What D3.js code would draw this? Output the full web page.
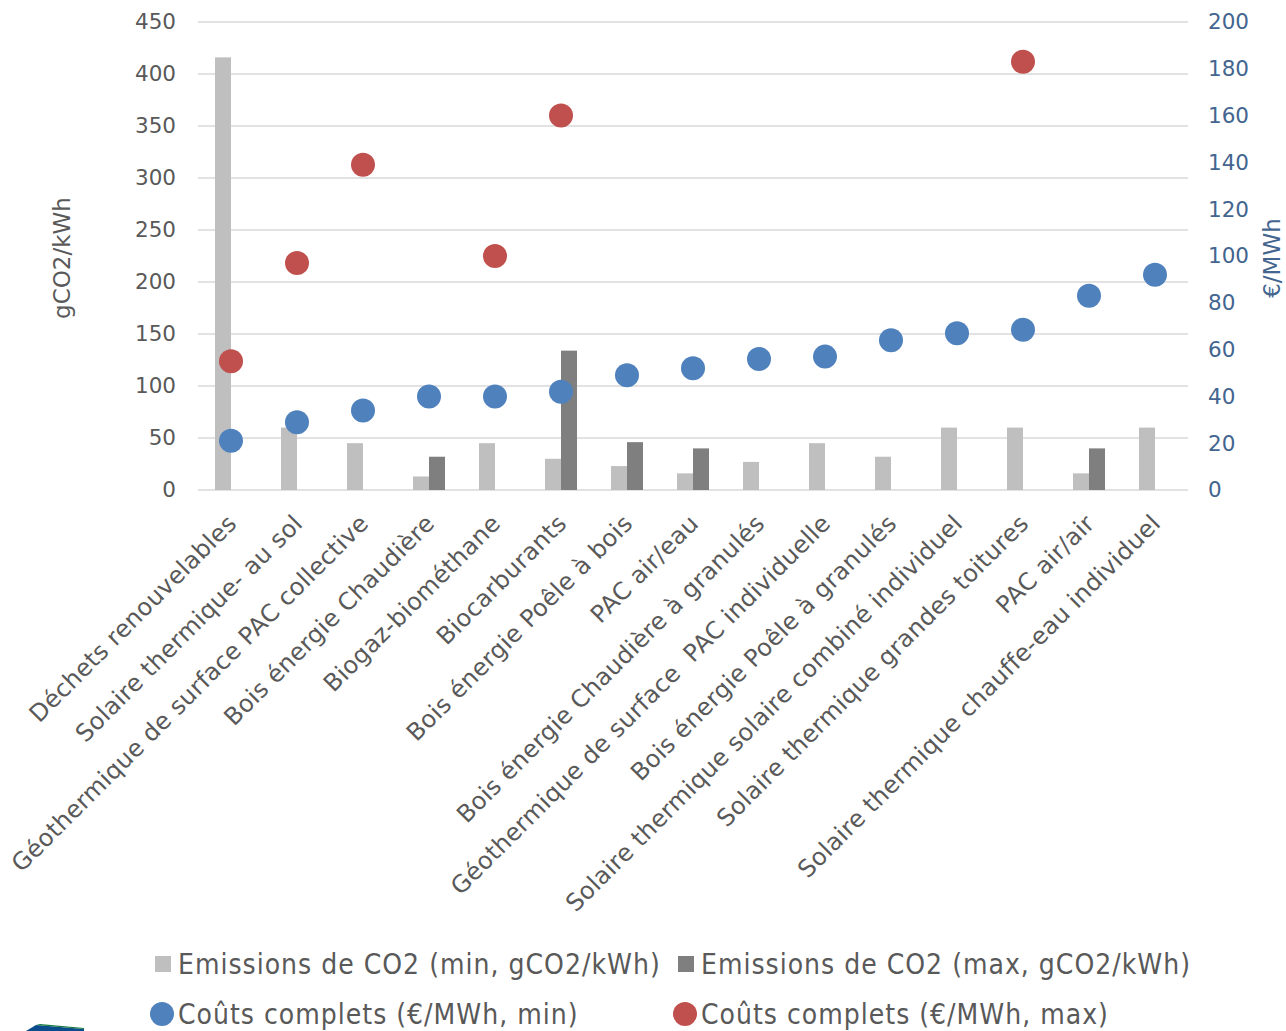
<!DOCTYPE html>
<html lang="fr">
<head>
<meta charset="utf-8">
<script src="https://cdn.jsdelivr.net/npm/d3@7"></script>
<style>
  html, body { margin: 0; padding: 0; background: #ffffff; }
  svg { display: block; }
  .tick-l text, .tick-r text, .cat text { font-family: "DejaVu Sans", sans-serif; }
</style>
</head>
<body>
<svg id="chart" width="1286" height="1031"></svg>
<script>
// Filières de chaleur renouvelable
const categories = [
  "Déchets renouvelables",
  "Solaire thermique- au sol",
  "Géothermique de surface PAC collective",
  "Bois énergie Chaudière",
  "Biogaz-biométhane",
  "Biocarburants",
  "Bois énergie Poêle à bois",
  "PAC air/eau",
  "Bois énergie Chaudière à granulés",
  "Géothermique de surface  PAC individuelle",
  "Bois énergie Poêle à granulés",
  "Solaire thermique solaire combiné individuel",
  "Solaire thermique grandes toitures",
  "PAC air/air",
  "Solaire thermique chauffe-eau individuel"
];

// Emissions de CO2 (gCO2/kWh)
const co2Min = [416, 60, 45, 13, 45, 30, 23, 16, 27, 45, 32, 60, 60, 16, 60];
const co2Max = [null, null, null, 32, null, 134, 46, 40, null, null, null, null, null, 40, null];

// Coûts complets (€/MWh)
const costMin = [21, 29, 34, 40, 40, 42, 49, 52, 56, 57, 64, 67, 68.5, 83, 92];
const costMax = [55, 97, 139, null, 100, 160, null, null, null, null, null, null, 183, null, null];

const leftTicks = [0, 50, 100, 150, 200, 250, 300, 350, 400, 450];
const rightTicks = [0, 20, 40, 60, 80, 100, 120, 140, 160, 180, 200];

const legendItems = [
  { label: "Emissions de CO2 (min, gCO2/kWh)", shape: "square", color: "#bfbfbf" },
  { label: "Emissions de CO2 (max, gCO2/kWh)", shape: "square", color: "#7f7f7f" },
  { label: "Coûts complets (€/MWh, min)", shape: "circle", color: "#4f81bd" },
  { label: "Coûts complets (€/MWh, max)", shape: "circle", color: "#c0504d" }
];

const svg = d3.select("#chart");
const plot = { left: 198, right: 1188, top: 22, bottom: 490 };

const x = d3.scaleBand()
  .domain(categories)
  .range([plot.left, plot.right])
  .paddingInner(34 / 66)
  .paddingOuter(17 / 66);

const xs = d3.scaleBand()
  .domain(["min", "max"])
  .range([0, x.bandwidth()]);

const yL = d3.scaleLinear().domain([0, 450]).range([plot.bottom, plot.top]);
const yR = d3.scaleLinear().domain([0, 200]).range([plot.bottom, plot.top]);

const textGrey = "#595959";
const axisBlue = "#43658f";

// left axis and horizontal gridlines
const leftAxis = d3.axisLeft(yL).tickValues(leftTicks).tickSize(0).tickPadding(22);
const gL = svg.append("g").attr("class", "tick-l")
  .attr("transform", `translate(${plot.left},0)`)
  .call(leftAxis);
gL.select(".domain").remove();
gL.selectAll("text").attr("fill", textGrey).style("font-size", "21.5px");

svg.append("g").selectAll("line")
  .data(leftTicks)
  .join("line")
  .attr("x1", plot.left).attr("x2", plot.right)
  .attr("y1", d => yL(d)).attr("y2", d => yL(d))
  .attr("stroke", "#d9d9d9").attr("stroke-width", 1.5);

const rightAxis = d3.axisRight(yR).tickValues(rightTicks).tickSize(0).tickPadding(20);
const gR = svg.append("g").attr("class", "tick-r")
  .attr("transform", `translate(${plot.right},0)`)
  .call(rightAxis);
gR.select(".domain").remove();
gR.selectAll("text").attr("fill", axisBlue).style("font-size", "21.5px");

// axis titles
const midY = (plot.top + plot.bottom) / 2;
svg.append("text")
  .attr("transform", `translate(70,${midY + 2}) rotate(-90)`)
  .attr("text-anchor", "middle")
  .attr("fill", textGrey)
  .style("font-family", "DejaVu Sans, sans-serif")
  .style("font-size", "23px")
  .text("gCO2/kWh");

svg.append("text")
  .attr("transform", `translate(1280,${midY + 2}) rotate(-90)`)
  .attr("text-anchor", "middle")
  .attr("fill", axisBlue)
  .style("font-family", "DejaVu Sans, sans-serif")
  .style("font-size", "23px")
  .text("€/MWh");

// bars
const barData = [];
categories.forEach((c, i) => {
  if (co2Min[i] != null) barData.push({ c, key: "min", v: co2Min[i] });
  if (co2Max[i] != null) barData.push({ c, key: "max", v: co2Max[i] });
});

svg.append("g").selectAll("rect")
  .data(barData)
  .join("rect")
  .attr("x", d => x(d.c) + xs(d.key))
  .attr("width", xs.bandwidth())
  .attr("y", d => yL(d.v))
  .attr("height", d => yL(0) - yL(d.v))
  .attr("fill", d => d.key === "min" ? "#bfbfbf" : "#7f7f7f");

// cost markers
const cx = c => x(c) + x.bandwidth() / 2;

svg.append("g").selectAll("circle")
  .data(categories.map((c, i) => ({ c, v: costMin[i] })).filter(d => d.v != null))
  .join("circle")
  .attr("cx", d => cx(d.c))
  .attr("cy", d => yR(d.v))
  .attr("r", 12)
  .attr("fill", "#4f81bd");

svg.append("g").selectAll("circle")
  .data(categories.map((c, i) => ({ c, v: costMax[i] })).filter(d => d.v != null))
  .join("circle")
  .attr("cx", d => cx(d.c))
  .attr("cy", d => yR(d.v))
  .attr("r", 12)
  .attr("fill", "#c0504d");

// category labels
svg.append("g").attr("class", "cat").selectAll("text")
  .data(categories)
  .join("text")
  .attr("transform", c => `translate(${cx(c) + 1},${plot.bottom + 29}) rotate(-45)`)
  .attr("text-anchor", "end")
  .attr("dy", "0.35em")
  .attr("fill", textGrey)
  .style("font-size", "24px")
  .style("letter-spacing", "0.3px")
  .style("white-space", "pre")
  .text(c => c);

// legend
const legendPos = [
  { x: 155, y: 964 },
  { x: 678, y: 964 },
  { x: 150, y: 1014 },
  { x: 673, y: 1014 }
];
const lg = svg.append("g").selectAll("g")
  .data(legendItems)
  .join("g")
  .attr("transform", (d, i) => `translate(${legendPos[i].x},${legendPos[i].y})`);

lg.filter(d => d.shape === "square").append("rect")
  .attr("x", 0).attr("y", -8).attr("width", 16).attr("height", 16)
  .attr("fill", d => d.color);
lg.filter(d => d.shape === "circle").append("circle")
  .attr("cx", 12).attr("cy", 0).attr("r", 12)
  .attr("fill", d => d.color);

lg.append("text")
  .attr("x", (d) => d.shape === "square" ? 23 : 28)
  .attr("dy", "0.36em")
  .attr("fill", textGrey)
  .style("font-family", "'DejaVu Sans Condensed', 'DejaVu Sans', sans-serif")
  .style("font-stretch", "condensed")
  .style("font-size", "28px")
  .style("letter-spacing", "1px")
  .text(d => d.label);

// corner emblem
svg.append("path")
  .attr("d", "M26,1031 L36,1025 L84,1029 L84,1031 Z")
  .attr("fill", "#0b4d8c");
svg.append("path")
  .attr("d", "M36,1025 L40,1024 L84,1028 L84,1029 Z")
  .attr("fill", "#127a3e");
</script>
</body>
</html>
